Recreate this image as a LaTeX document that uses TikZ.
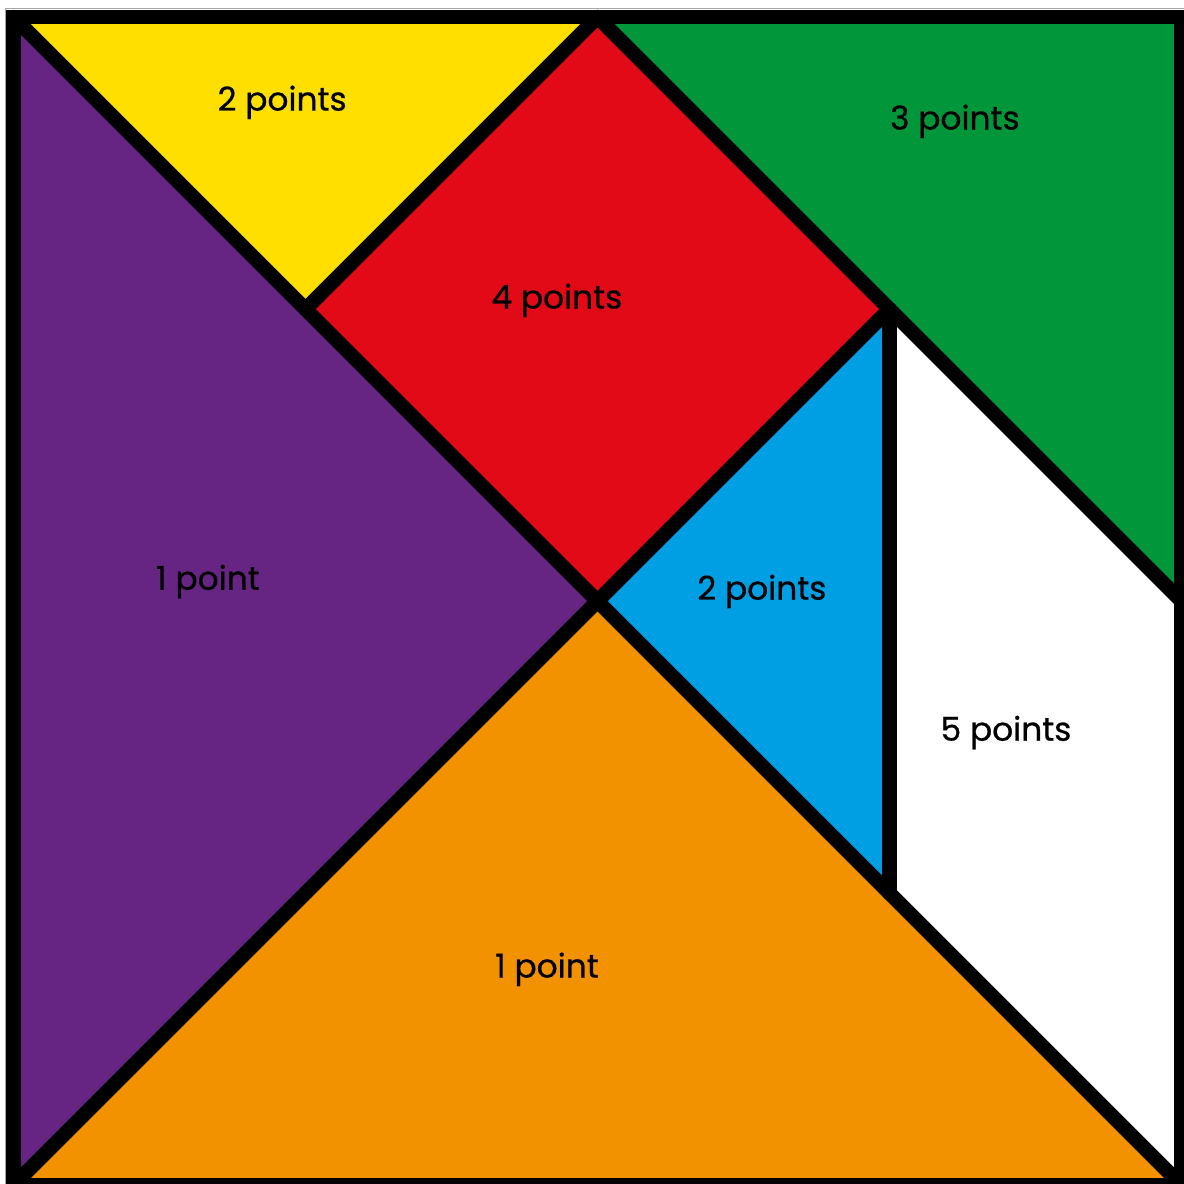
\documentclass[tikz,border=0pt]{standalone}
\usepackage{fontspec}
\setmainfont{Poppins}[FakeBold=0.6]
\definecolor{tyellow}{HTML}{FFDF00}
\definecolor{tred}{HTML}{E20A16}
\definecolor{tgreen}{HTML}{02963A}
\definecolor{tpurple}{HTML}{662483}
\definecolor{tblue}{HTML}{009FE3}
\definecolor{torange}{HTML}{F39200}
\tikzset{
  edge/.style={line width=4.24pt, draw=black, line cap=round},
  frame/.style={line width=4.24pt, draw=black, line join=miter},
  lbl/.style={anchor=base, font=\fontsize{9.6}{11}\selectfont, text=black, inner sep=0pt}
}
\begin{document}
\begin{tikzpicture}[x=3cm,y=3cm]
\useasboundingbox (-0.0462,0.004) rectangle (4.0086,4.0588);
\fill[white] (-0.0462,0.004) rectangle (4.0086,4.0588);
\draw[gray!70, line width=0.3pt] (-0.029,-0.1) -- (-0.029,4.031) -- (4.1,4.031);
\coordinate (TL) at (0,4);
\coordinate (TR) at (4,4);
\coordinate (BL) at (0,0);
\coordinate (BR) at (4,0);
\coordinate (T) at (2,4);
\coordinate (Rm) at (4,2);
\coordinate (C) at (2,2);
\coordinate (P) at (3,3);
\coordinate (Q) at (1,3);
\coordinate (R) at (3,1);
% pieces
\fill[tyellow] (TL) -- (T) -- (Q) -- cycle;
\fill[tred] (T) -- (P) -- (C) -- (Q) -- cycle;
\fill[tgreen] (T) -- (TR) -- (Rm) -- cycle;
\fill[tpurple] (TL) -- (C) -- (BL) -- cycle;
\fill[torange] (BL) -- (C) -- (BR) -- cycle;
\fill[tblue] (C) -- (P) -- (R) -- cycle;
\fill[white] (P) -- (Rm) -- (BR) -- (R) -- cycle;
% edges
\draw[edge] (TL) -- (C);
\draw[edge] (BL) -- (P);
\draw[edge] (Q) -- (T);
\draw[edge] (T) -- (Rm);
\draw[edge] (C) -- (BR);
\draw[edge] (P) -- (R);
\draw[frame] (TL) -- (TR) -- (BR) -- (BL) -- cycle;
% labels
\node[lbl] (l1) at (0.920,3.680) {2 points};
\node[lbl] (l2) at (3.224,3.615) {3 points};
\node[lbl] (l3) at (1.861,3.002) {4 points};
\node[lbl] (l4) at (0.666,2.039) {1 point};
\node[lbl] (l5) at (2.563,2.005) {2 points};
\node[lbl] (l6) at (3.399,1.522) {5 points};
\node[lbl] (l7) at (1.827,0.711) {1 point};
\end{tikzpicture}
\end{document}
